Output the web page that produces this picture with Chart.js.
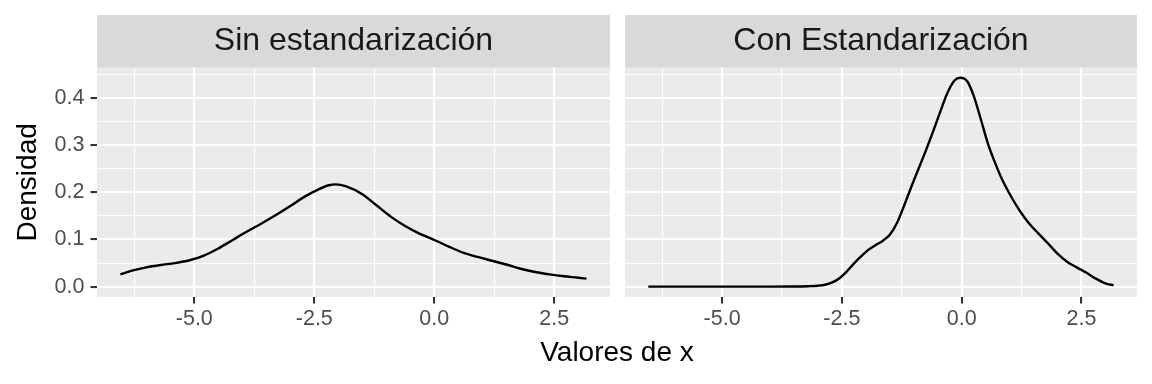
<!DOCTYPE html>
<html>
<head>
<meta charset="utf-8">
<script src="https://cdn.jsdelivr.net/npm/chart.js@4"></script>
<style>
  html, body { margin: 0; padding: 0; background: #ffffff; }
  #wrap { position: relative; width: 1152px; height: 384px; overflow: hidden; font-family: 'Liberation Sans', Arial, sans-serif; }
  canvas { position: absolute; top: 0; }
  #c1 { left: 0; }
  #c2 { left: 615px; }
  #xtitle { position: absolute; left: 97px; width: 1040px; top: 338px; text-align: center; font-size: 28px; line-height: 28px; color: #000; }
</style>
</head>
<body>
<div id="wrap">
  <canvas id="c1" width="615" height="384"></canvas>
  <canvas id="c2" width="537" height="384"></canvas>
  <div id="xtitle">Valores de x</div>
</div>
<script>
// ---- data ----
const panelTitles = ["Sin estandarización", "Con Estandarización"];

const sinX = [-6.54, -6.3, -6.0, -5.7, -5.4, -5.1, -4.8, -4.5, -4.2, -3.9, -3.6, -3.3, -3.0, -2.7, -2.4, -2.2, -2.05, -1.85, -1.5, -1.2, -0.9, -0.6, -0.3, 0.0, 0.3, 0.6, 0.9, 1.2, 1.5, 1.8, 2.1, 2.4, 2.7, 3.0, 3.17];
const sinY = [0.026, 0.034, 0.041, 0.046, 0.050, 0.056, 0.066, 0.081, 0.099, 0.117, 0.134, 0.152, 0.171, 0.191, 0.207, 0.215, 0.217, 0.213, 0.196, 0.172, 0.148, 0.128, 0.112, 0.099, 0.085, 0.072, 0.063, 0.055, 0.047, 0.038, 0.031, 0.026, 0.022, 0.019, 0.017];

const conX = [-6.54, -5.0, -4.0, -3.5, -3.2, -3.0, -2.85, -2.7, -2.55, -2.4, -2.25, -2.1, -1.95, -1.8, -1.65, -1.5, -1.35, -1.2, -1.05, -0.9, -0.75, -0.6, -0.45, -0.3, -0.15, -0.03, 0.12, 0.25, 0.4, 0.55, 0.7, 0.85, 1.0, 1.2, 1.4, 1.6, 1.8, 2.0, 2.2, 2.4, 2.6, 2.8, 3.0, 3.17];
const conY = [0.0, 0.0, 0.0, 0.0003, 0.001, 0.002, 0.004, 0.009, 0.018, 0.032, 0.049, 0.064, 0.078, 0.088, 0.097, 0.110, 0.135, 0.172, 0.212, 0.250, 0.288, 0.328, 0.370, 0.410, 0.437, 0.443, 0.435, 0.405, 0.355, 0.303, 0.262, 0.226, 0.197, 0.163, 0.135, 0.113, 0.092, 0.070, 0.053, 0.041, 0.030, 0.017, 0.007, 0.003];

const xMajorTicks = [-5, -2.5, 0, 2.5];
const xMinorTicks = [-6.25, -3.75, -1.25, 1.25];
const yMajorTicks = [0, 0.1, 0.2, 0.3, 0.4];
const yMinorTicks = [0.05, 0.15, 0.25, 0.35, 0.45];

const xLimits = [-7.027, 3.66];
const yLimits = [-0.0219, 0.4643];

const yTitle = "Densidad";

// ---- styling ----
Chart.defaults.font.family = "'Liberation Sans', Arial, sans-serif";
Chart.defaults.devicePixelRatio = 1;

const FONT_FAMILY = "'Liberation Sans', Arial, sans-serif";
const isMajor = (v, list) => list.some(m => Math.abs(m - v) < 1e-9);

const panelPlugin = {
  id: 'panelBg',
  beforeDraw(chart) {
    const { ctx, chartArea } = chart;
    ctx.save();
    ctx.fillStyle = '#EBEBEB';
    ctx.fillRect(chartArea.left, chartArea.top, chartArea.right - chartArea.left, chartArea.bottom - chartArea.top);
    const tb = chart.titleBlock;
    if (tb) {
      ctx.fillStyle = '#D9D9D9';
      ctx.fillRect(tb.left, tb.top, tb.width, tb.height);
    }
    ctx.restore();
  }
};

function makeChart(canvasId, title, xs, ys, withYAxis, rightPad, yAxisWidth) {
  const pts = xs.map((x, i) => ({ x: x, y: ys[i] }));
  const xTicks = xMinorTicks.concat(xMajorTicks).sort((a, b) => a - b);
  const yTicks = yMinorTicks.concat(yMajorTicks).sort((a, b) => a - b);
  return new Chart(document.getElementById(canvasId), {
    type: 'line',
    data: {
      datasets: [{
        data: pts,
        borderColor: '#000000',
        borderWidth: 2.4,
        pointRadius: 0,
        fill: false,
        cubicInterpolationMode: 'monotone',
        borderCapStyle: 'butt',
        borderJoinStyle: 'round'
      }]
    },
    options: {
      responsive: false,
      animation: false,
      devicePixelRatio: 1,
      layout: { padding: { top: 15, right: rightPad, bottom: 0, left: 0 } },
      plugins: {
        legend: { display: false },
        tooltip: { enabled: false },
        title: {
          display: true,
          text: title,
          fullSize: false,
          color: '#1A1A1A',
          font: { family: FONT_FAMILY, size: 32, weight: 'normal', lineHeight: 1.647 },
          padding: 0
        }
      },
      scales: {
        x: {
          type: 'linear',
          min: xLimits[0],
          max: xLimits[1],
          afterBuildTicks: (s) => { s.ticks = xTicks.map(v => ({ value: v })); },
          afterFit: (s) => { s.height = 87; },
          border: { display: false },
          grid: {
            color: '#FFFFFF',
            lineWidth: (c) => isMajor(c.tick.value, xMajorTicks) ? 2.1 : 1.1,
            drawTicks: true,
            tickLength: 6.5,
            tickWidth: 2.1,
            tickColor: (c) => isMajor(c.tick.value, xMajorTicks) ? '#333333' : 'rgba(0,0,0,0)'
          },
          ticks: {
            autoSkip: false,
            maxRotation: 0,
            minRotation: 0,
            padding: 3,
            color: '#4D4D4D',
            font: { family: FONT_FAMILY, size: 21.5 },
            callback: (v) => isMajor(v, xMajorTicks) ? v.toFixed(1) : ''
          }
        },
        y: {
          type: 'linear',
          min: yLimits[0],
          max: yLimits[1],
          afterBuildTicks: (s) => { s.ticks = yTicks.map(v => ({ value: v })); },
          afterFit: (s) => { s.width = yAxisWidth; },
          border: { display: false },
          title: {
            display: withYAxis,
            text: yTitle,
            color: '#000000',
            font: { family: FONT_FAMILY, size: 28 },
            padding: { top: 11, bottom: 0 }
          },
          grid: {
            color: '#FFFFFF',
            lineWidth: (c) => isMajor(c.tick.value, yMajorTicks) ? 2.1 : 1.1,
            drawTicks: withYAxis,
            tickLength: 6.5,
            tickWidth: 2.1,
            tickColor: (c) => isMajor(c.tick.value, yMajorTicks) ? '#333333' : 'rgba(0,0,0,0)'
          },
          ticks: {
            display: withYAxis,
            autoSkip: false,
            padding: 6,
            color: '#4D4D4D',
            font: { family: FONT_FAMILY, size: 21.5 },
            callback: (v) => isMajor(v, yMajorTicks) ? v.toFixed(1) : ''
          }
        }
      }
    },
    plugins: [panelPlugin]
  });
}

makeChart('c1', panelTitles[0], sinX, sinY, true, 5, 97);
makeChart('c2', panelTitles[1], conX, conY, false, 15, 10);
</script>
</body>
</html>
